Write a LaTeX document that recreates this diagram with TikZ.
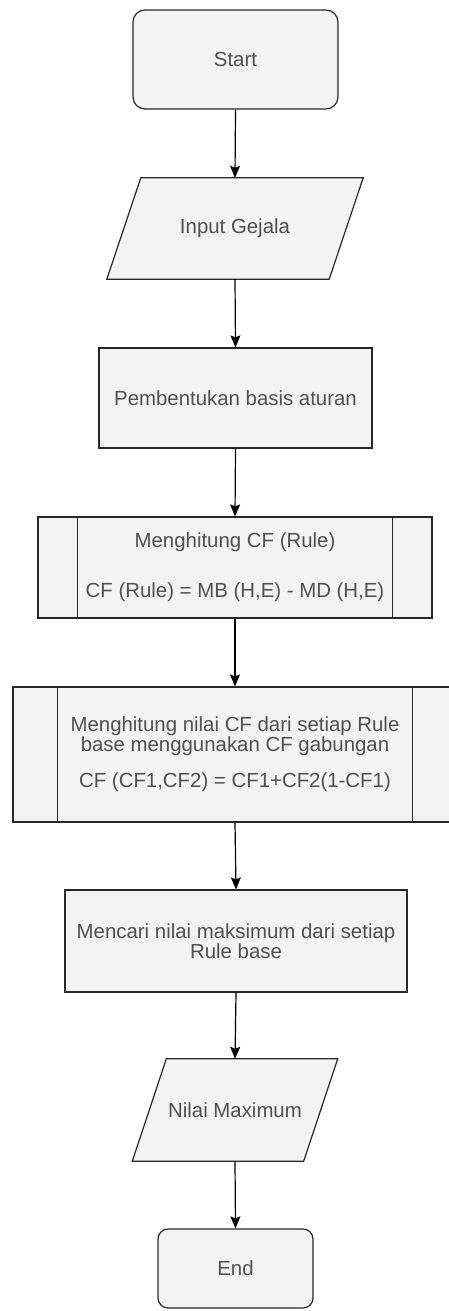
\documentclass[tikz,border=0pt]{standalone}
\usepackage{fontspec}
\setmainfont{Liberation Sans}
\usetikzlibrary{arrows.meta,backgrounds}
\definecolor{boxfill}{RGB}{243,243,243}
\definecolor{boxtext}{RGB}{80,80,80}
\definecolor{boxline}{RGB}{40,40,40}
\newcommand{\flowfont}{\fontsize{20.4}{19.5}\selectfont\lineskiplimit=-20pt\relax}

\begin{document}
\begin{tikzpicture}[x=1pt, y=-1pt, >={Stealth[length=12pt,width=10pt,inset=2pt]},
    boxtxt/.style={text=boxtext, align=center, inner sep=0pt, font=\flowfont},
    box/.style={boxtxt, draw=boxline, line width=1.2pt, fill=boxfill},
    terminal/.style={box, rounded corners=12pt},
    io/.style={boxtxt},
    outline/.style={draw=boxline, line width=1.2pt, fill=boxfill},
    flow/.style={->, draw=black, line width=1.2pt}]
    \useasboundingbox (0,0) rectangle (449,1311);

    \node[terminal, minimum width=205pt, minimum height=99pt] (start) at (235.5,59.5) {Start};
    \node[io, minimum width=222pt, minimum height=101pt] (input) at (235,228.5) {Input Gejala};
    \node[box, minimum width=273pt, minimum height=100pt] (basis) at (235.5,398) {Pembentukan basis aturan};
    \node[box, minimum width=394pt, minimum height=101pt] (cfrule) at (235,567.5)
        {Menghitung CF (Rule)\\[30.5pt]CF (Rule) = MB (H,E) - MD (H,E)};
    \node[box, minimum width=444pt, minimum height=135pt] (cfgab) at (235,754.5)
        {Menghitung nilai CF dari setiap Rule\\base menggunakan CF gabungan\\[17pt]CF (CF1,CF2) = CF1+CF2(1-CF1)};
    \node[box, minimum width=342pt, minimum height=102pt] (maks) at (236,941)
        {Mencari nilai maksimum dari setiap\\Rule base};
    \node[io, minimum width=171pt, minimum height=102pt] (nilai) at (235,1110) {Nilai Maximum};
    \node[terminal, rounded corners=10pt, minimum width=155pt, minimum height=79pt] (end) at (235.5,1268.5) {End};

    % jajaran genjang input / output
    \begin{scope}[on background layer]
    \draw[outline] ([xshift=17pt]input.north west) -- ([xshift=17pt]input.north east)
        -- ([xshift=-17pt]input.south east) -- ([xshift=-17pt]input.south west) -- cycle;
    \draw[outline] ([xshift=17pt]nilai.north west) -- ([xshift=17pt]nilai.north east)
        -- ([xshift=-17pt]nilai.south east) -- ([xshift=-17pt]nilai.south west) -- cycle;
    \end{scope}

    % garis dalam subproses
    \draw[outline] ([xshift=40pt]cfrule.north west) -- ([xshift=40pt]cfrule.south west);
    \draw[outline] ([xshift=-40pt]cfrule.north east) -- ([xshift=-40pt]cfrule.south east);
    \draw[outline] ([xshift=45pt]cfgab.north west) -- ([xshift=45pt]cfgab.south west);
    \draw[outline] ([xshift=-45pt]cfgab.north east) -- ([xshift=-45pt]cfgab.south east);

    \draw[flow] (start.south) -- (input.north);
    \draw[flow] (input.south) -- (basis.north);
    \draw[flow] (basis.south) -- (cfrule.north);
    \draw[flow] (cfrule.south) -- (cfgab.north);
    \draw[flow] (cfgab.south) -- (maks.north);
    \draw[flow] (maks.south) -- (nilai.north);
    \draw[flow] (nilai.south) -- (end.north);
\end{tikzpicture}
\end{document}
